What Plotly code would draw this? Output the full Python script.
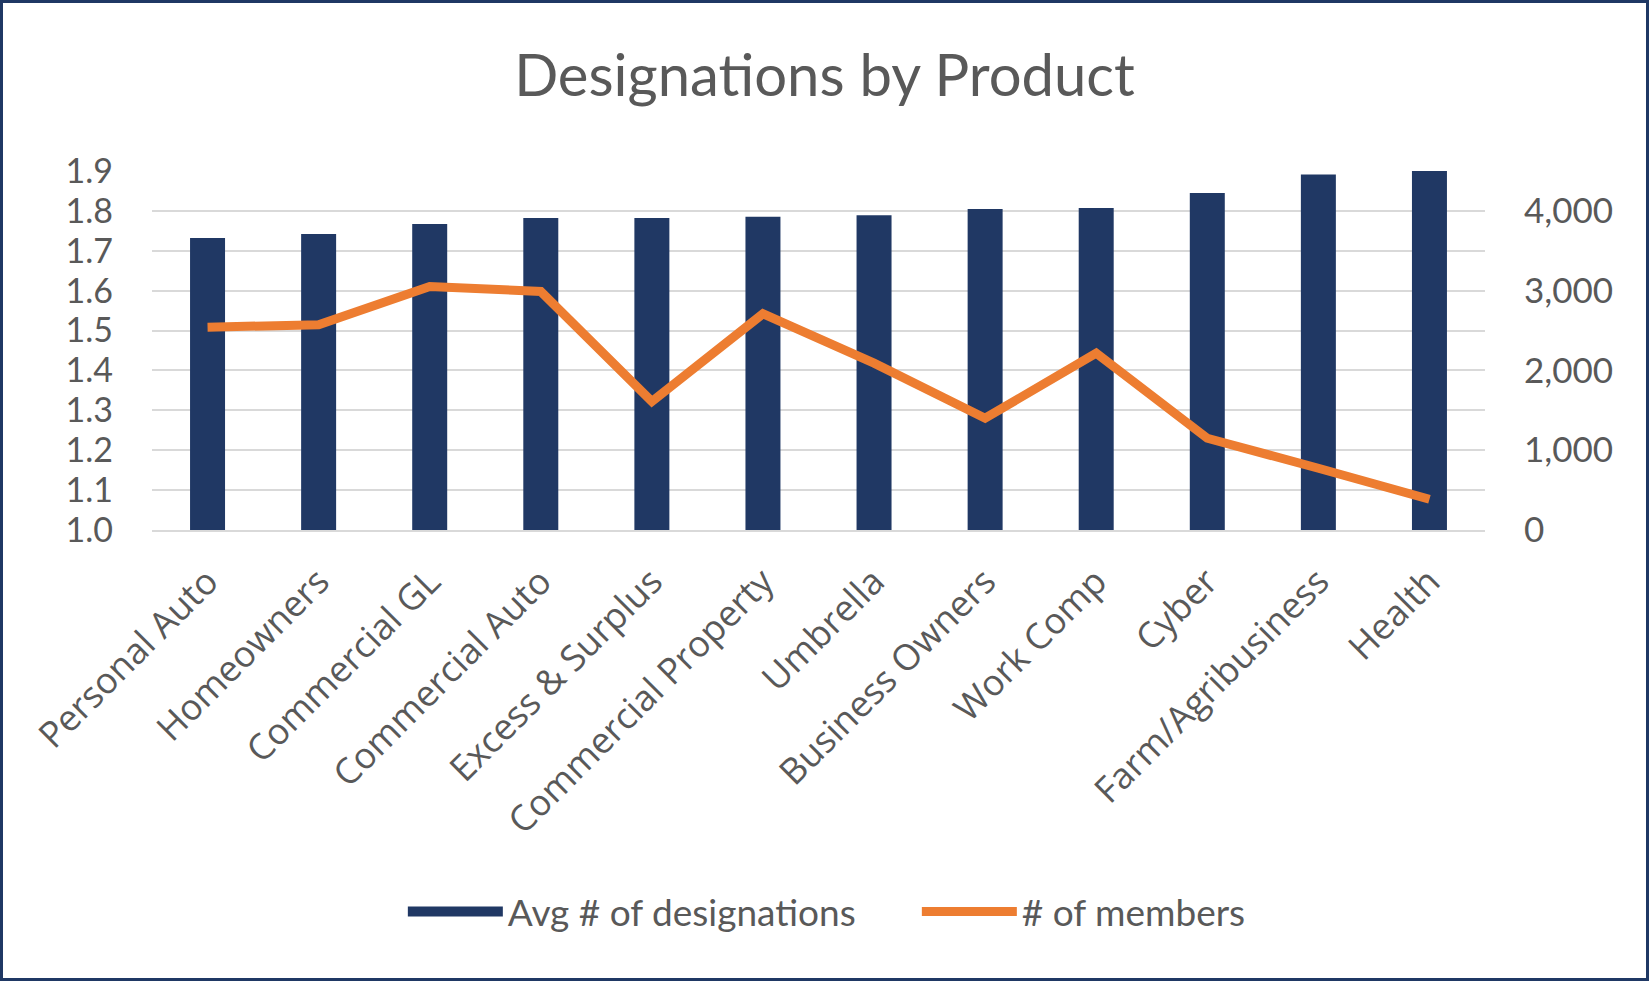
import plotly.graph_objects as go

categories = ["Personal Auto", "Homeowners", "Commercial GL", "Commercial Auto",
              "Excess & Surplus", "Commercial Property", "Umbrella", "Business Owners",
              "Work Comp", "Cyber", "Farm/Agribusiness", "Health"]
avg_designations = [1.732, 1.742, 1.767, 1.782, 1.782, 1.785, 1.789, 1.805, 1.807, 1.845, 1.891, 1.900]
num_members = [2543, 2572, 3053, 2990, 1610, 2710, 2091, 1401, 2217, 1150, 774, 385]

NAVY = "#203864"
ORANGE = "#ED7D31"
GRAY_TXT = "#595959"
GRID = "#D9D9D9"

W, H = 1649, 981
ML, MR, MT, MB = 152, 164, 171, 451

fig = go.Figure()
fig.add_trace(go.Bar(x=categories, y=avg_designations, name="Avg # of designations",
                     marker=dict(color=NAVY, line=dict(width=0)), showlegend=False,
                     legendgroup="avg", yaxis="y"))
# legend entry for the bars (wide navy swatch)
fig.add_trace(go.Scatter(x=[None], y=[None], mode="lines", name="Avg # of designations",
                         line=dict(color=NAVY, width=20), legendgroup="avg", yaxis="y"))
fig.add_trace(go.Scatter(x=categories, y=num_members, name="# of members", mode="lines",
                         line=dict(color=ORANGE, width=9), yaxis="y2"))

# outer border
pw = W - ML - MR
ph = H - MT - MB
def px2x(p):
    return (p - ML) / pw
def py2y(p):
    return (H - MB - p) / ph
fig.add_shape(type="rect", xref="paper", yref="paper",
              x0=px2x(1.5), x1=px2x(W - 1.5), y0=py2y(H - 1.5), y1=py2y(1.5),
              line=dict(color="#1F3864", width=3), fillcolor="rgba(0,0,0,0)", layer="above")

fig.update_layout(
    width=W, height=H,
    margin=dict(l=ML, r=MR, t=MT, b=MB, autoexpand=False),
    paper_bgcolor="white", plot_bgcolor="white",
    bargap=0.685,
    title=dict(text="Designations by Product", x=0.5, xanchor="center", xref="container",
               y=1 - 76 / H, yanchor="middle", yref="container",
               font=dict(family="Lato", size=58, color=GRAY_TXT)),
    font=dict(family="Lato", color=GRAY_TXT),
    xaxis=dict(tickangle=-45, tickfont=dict(family="Open Sans", size=36, color=GRAY_TXT),
               showgrid=False, showline=True, linecolor=GRID, linewidth=2,
               ticks="", ticklabelstandoff=14),
    yaxis=dict(range=[1.0, 1.9], dtick=0.1, tickformat=".1f",
               tickfont=dict(family="Lato", size=34, color=GRAY_TXT),
               showgrid=True, gridcolor=GRID, gridwidth=2, zeroline=False,
               showline=False, ticks="", ticklabelstandoff=38),
    yaxis2=dict(range=[0, 4500], dtick=1000, tickformat=",", overlaying="y", side="right",
                tickfont=dict(family="Lato", size=35, color=GRAY_TXT),
                showgrid=False, zeroline=False, showline=False, ticks="",
                ticklabelstandoff=38),
    legend=dict(orientation="h", xref="container", yref="container", x=0.556, y=1 - 912 / H,
                xanchor="center", yanchor="middle", itemwidth=95,
                entrywidth=404, entrywidthmode="pixels",
                font=dict(family="Lato", size=37, color=GRAY_TXT), bgcolor="rgba(0,0,0,0)"),
    showlegend=True,
)

fig.write_html("out.html")
